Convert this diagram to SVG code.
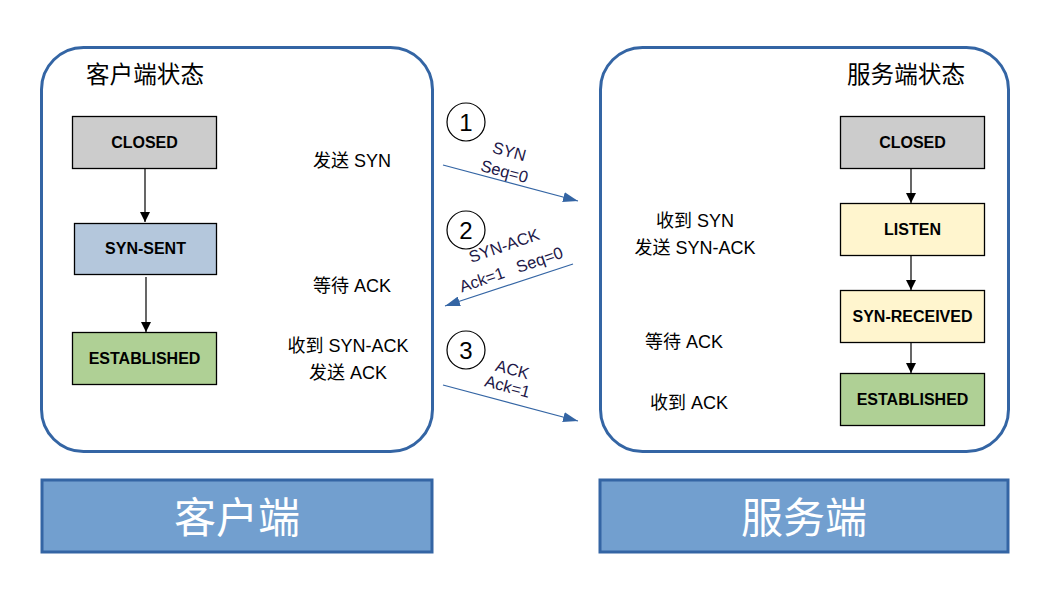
<svg xmlns="http://www.w3.org/2000/svg" width="1058" height="595" viewBox="0 0 1058 595">
<style>
.panel{fill:#ffffff;stroke:#3465a4;stroke-width:3}
.bar{fill:#729fcf;stroke:#3465a4;stroke-width:3}
.st{stroke:#000000;stroke-width:1.3}
.lbl{font-family:"Liberation Sans","Noto Sans CJK SC",sans-serif;font-weight:bold;font-size:16px;fill:#000;text-anchor:middle}
.txt{font-family:"Liberation Sans","Noto Sans CJK SC",sans-serif;font-size:18px;fill:#000;text-anchor:middle}
.ttl{font-family:"Liberation Sans","Noto Sans CJK SC",sans-serif;font-size:23.6px;fill:#000;text-anchor:middle}
.big{font-family:"Liberation Sans","Noto Sans CJK SC",sans-serif;font-size:42px;fill:#ffffff;text-anchor:middle}
.num{font-family:"Liberation Sans",sans-serif;font-size:24px;fill:#000;text-anchor:middle}
.msg{font-family:"Liberation Sans",sans-serif;font-size:16.5px;fill:#1e1848;text-anchor:middle}
.blk{stroke:#000;stroke-width:1.2;fill:none}
.blu{stroke:#3465a4;stroke-width:1.2;fill:none}
</style>
<defs>
<marker id="ab" markerWidth="10" markerHeight="10" refX="10" refY="5" orient="auto" markerUnits="userSpaceOnUse" viewBox="0 0 10 10">
<path d="M0,0 L10,5 L0,10 Z" fill="#000"/>
</marker>
<marker id="au" markerWidth="15" markerHeight="10" refX="15" refY="5" orient="auto" markerUnits="userSpaceOnUse" viewBox="0 0 15 10">
<path d="M0,0 L15,5 L0,10 Z" fill="#3465a4"/>
</marker>
</defs>

<g id="client-panel">
<rect class="panel" x="41.5" y="47.5" width="391" height="404" rx="42"/>
<text class="ttl" x="145" y="83">客户端状态</text>
<text class="txt" x="352" y="167">发送 SYN</text>
<text class="txt" x="352" y="292">等待 ACK</text>
<text class="txt" x="348" y="352">收到 SYN-ACK</text>
<text class="txt" x="348" y="379">发送 ACK</text>
</g>
<g id="server-panel">
<rect class="panel" x="600.5" y="47.5" width="408" height="404" rx="42"/>
<text class="ttl" x="906" y="83">服务端状态</text>
<text class="txt" x="695" y="227">收到 SYN</text>
<text class="txt" x="695" y="254">发送 SYN-ACK</text>
<text class="txt" x="684" y="348">等待 ACK</text>
<text class="txt" x="689" y="409">收到 ACK</text>
</g>

<g id="c-closed"><rect class="st" x="72.5" y="116.5" width="144" height="52" fill="#cccccc"/><text class="lbl" x="144.5" y="148">CLOSED</text></g>
<g id="c-synsent"><rect class="st" x="74.5" y="223.5" width="142" height="51" fill="#b4c7dc"/><text class="lbl" x="145.5" y="254">SYN-SENT</text></g>
<g id="c-established"><rect class="st" x="72.5" y="332.5" width="144" height="52" fill="#afd095"/><text class="lbl" x="144.5" y="364">ESTABLISHED</text></g>

<g id="s-closed"><rect class="st" x="840.5" y="116.5" width="144" height="52" fill="#cccccc"/><text class="lbl" x="912.5" y="148">CLOSED</text></g>
<g id="s-listen"><rect class="st" x="840.5" y="203.5" width="144" height="52" fill="#fff5ce"/><text class="lbl" x="912.5" y="235">LISTEN</text></g>
<g id="s-synreceived"><rect class="st" x="840.5" y="290.5" width="144" height="52" fill="#fff5ce"/><text class="lbl" x="912.5" y="322">SYN-RECEIVED</text></g>
<g id="s-established"><rect class="st" x="840.5" y="373.5" width="144" height="52" fill="#afd095"/><text class="lbl" x="912.5" y="405">ESTABLISHED</text></g>

<g id="step1"><circle cx="466" cy="122" r="19" fill="#fff" stroke="#000" stroke-width="1.2"/><text class="num" x="466" y="130.5">1</text></g>
<g id="step2"><circle cx="466" cy="230" r="19" fill="#fff" stroke="#000" stroke-width="1.2"/><text class="num" x="466" y="238.5">2</text></g>
<g id="step3"><circle cx="466" cy="350" r="19" fill="#fff" stroke="#000" stroke-width="1.2"/><text class="num" x="466" y="358.5">3</text></g>

<g id="client-bar"><rect class="bar" x="42" y="480" width="390" height="72"/><text class="big" x="237" y="533">客户端</text></g>
<g id="server-bar"><rect class="bar" x="600" y="480" width="408" height="72"/><text class="big" x="804" y="533">服务端</text></g>

<g id="connectors">
<line class="blk" x1="145" y1="168" x2="145" y2="222" marker-end="url(#ab)"/>
<line class="blk" x1="146" y1="277" x2="146" y2="332" marker-end="url(#ab)"/>
<line class="blk" x1="911" y1="168" x2="911" y2="203" marker-end="url(#ab)"/>
<line class="blk" x1="911" y1="255" x2="911" y2="290" marker-end="url(#ab)"/>
<line class="blk" x1="911" y1="342" x2="911" y2="373" marker-end="url(#ab)"/>
<line class="blu" x1="443" y1="165" x2="578" y2="201" marker-end="url(#au)"/>
<line class="blu" x1="573" y1="264" x2="445" y2="306" marker-end="url(#au)"/>
<line class="blu" x1="443" y1="385" x2="578" y2="421" marker-end="url(#au)"/>
<text class="msg" transform="translate(508,157) rotate(15)">SYN</text>
<text class="msg" transform="translate(503,177) rotate(15)">Seq=0</text>
<text class="msg" transform="translate(506,251) rotate(-19)">SYN-ACK</text>
<text class="msg" transform="translate(513,275) rotate(-19)" xml:space="preserve">Ack=1   Seq=0</text>
<text class="msg" transform="translate(511,375) rotate(15)">ACK</text>
<text class="msg" transform="translate(506,392) rotate(15)">Ack=1</text>
</g>
</svg>
